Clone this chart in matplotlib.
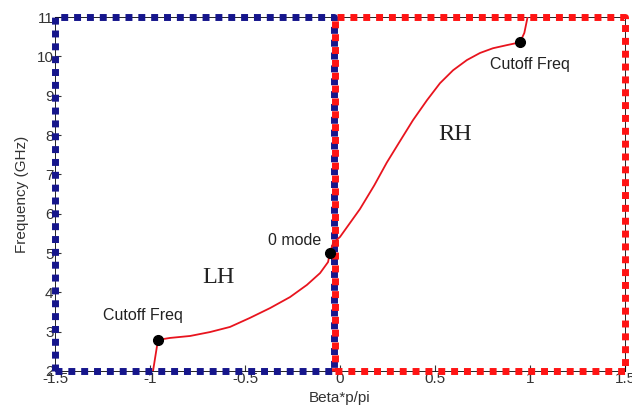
import matplotlib.pyplot as plt
import numpy as np

plt.rcParams['font.family'] = ['Liberation Sans', 'DejaVu Sans']

# dispersion curve
beta = [-0.984, -0.958, -0.895, -0.789, -0.684, -0.579, -0.474, -0.368, -0.263, -0.174,
        -0.105, -0.063, -0.053, -0.037, 0.0, 0.105, 0.18, 0.246, 0.316, 0.384, 0.458,
        0.526, 0.595, 0.668, 0.737, 0.805, 0.879, 0.947, 0.97, 0.987]
freq = [2.0, 2.79, 2.84, 2.89, 2.99, 3.12, 3.35, 3.60, 3.88, 4.19,
        4.49, 4.77, 5.00, 5.25, 5.41, 6.12, 6.72, 7.30, 7.85, 8.38, 8.89,
        9.32, 9.65, 9.91, 10.09, 10.21, 10.29, 10.36, 10.6, 11.0]

dots_x = [-0.958, -0.053, 0.947]
dots_y = [2.79, 5.00, 10.36]

fig = plt.figure(figsize=(6.32, 4.09), dpi=100)
ax = fig.add_axes([0.087, 0.093, 0.902, 0.865])

dot_style = dict(linestyle=(0, (1, 0.85)), linewidth=5, dash_capstyle='butt',
                 clip_on=False, zorder=3)
ax.plot([-1.5, -0.03, -0.03, -1.5, -1.5], [2, 2, 11, 11, 2], color='#16168c', **dot_style)
ax.plot([-0.026, 1.5, 1.5, -0.026, -0.026], [2, 2, 11, 11, 2], color='#ff1414', **dot_style)

ax.plot(beta, freq, color='#e8141e', linewidth=1.3, zorder=4)
ax.plot(dots_x, dots_y, 'o', color='black', markersize=7, zorder=5)

ax.text(-1.247, 3.30, 'Cutoff Freq', fontsize=11.5, color='#222222')
ax.text(-0.379, 5.20, '0 mode', fontsize=11.5, color='#222222')
ax.text(0.789, 9.68, 'Cutoff Freq', fontsize=11.5, color='#222222')
ax.text(-0.726, 4.24, 'LH', fontsize=17.5, family='Liberation Serif', color='#222222')
ax.text(0.516, 7.87, 'RH', fontsize=17.5, family='Liberation Serif', color='#222222')

ax.set_xlim(-1.5, 1.5)
ax.set_ylim(2, 11)
ax.set_xticks(np.arange(-1.5, 1.51, 0.5))
ax.set_xticklabels(['-1.5', '-1', '-0.5', '0', '0.5', '1', '1.5'])
ax.set_yticks(range(2, 12))
ax.tick_params(direction='in', labelsize=11, length=4, pad=1, colors='#333333')
for s in ax.spines.values():
    s.set_linewidth(0.6)
ax.set_xlabel('Beta*p/pi', fontsize=11, color='#333333')
ax.set_ylabel('Frequency (GHz)', fontsize=11, color='#333333')
ax.xaxis.set_label_coords(0.5, -0.058)
ax.yaxis.set_label_coords(-0.046, 0.5)

fig.savefig('out.png', dpi=100)
